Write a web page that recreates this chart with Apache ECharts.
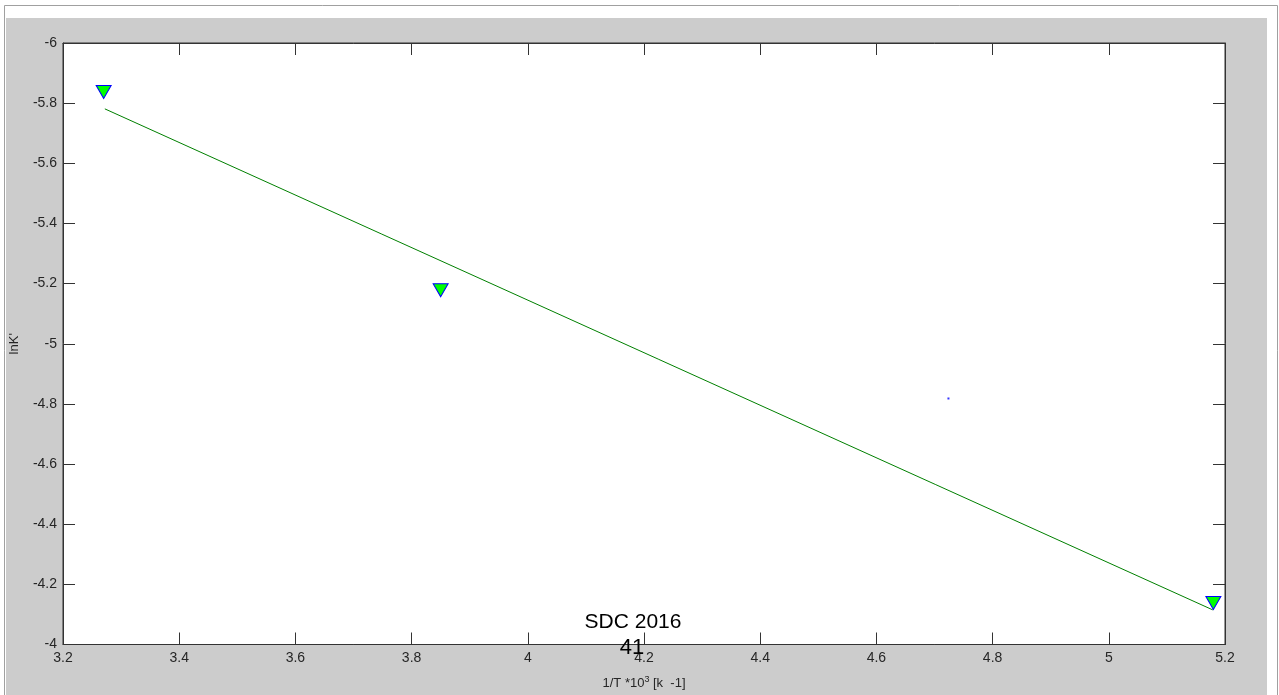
<!DOCTYPE html>
<html><head><meta charset="utf-8">
<script src="https://cdn.jsdelivr.net/npm/echarts@6/dist/echarts.min.js"></script>
<style>html,body{margin:0;padding:0;background:#fff;}#c{width:1279px;height:695px;}</style>
</head><body><div id="c"></div>
<script>
// Data
const xTickLabels = ['3.2','3.4','3.6','3.8','4','4.2','4.4','4.6','4.8','5','5.2'];
const yTickLabels = ['-6','-5.8','-5.6','-5.4','-5.2','-5','-4.8','-4.6','-4.4','-4.2','-4'];
const measuredX = [3.27, 3.85, 5.18];
const measuredY = [-5.837, -5.178, -4.138];
const fitX = [3.272, 5.179];
const fitY = [-5.781, -4.115];
const strayX = [4.724];
const strayY = [-4.818];
const xAxisTitle = '1/T *10';
const xAxisSup = '3';
const xAxisUnit = ' [k  -1]';
const yAxisTitle = "lnK'";
const noteLine1 = 'SDC 2016';
const noteLine2 = '41';

const zip = (a, b) => a.map((v, i) => [v, b[i]]);
const FONT = '"Liberation Sans", Arial, sans-serif';
const xMin = parseFloat(xTickLabels[0]), xMax = parseFloat(xTickLabels[xTickLabels.length - 1]);
const yMin = parseFloat(yTickLabels[0]), yMax = parseFloat(yTickLabels[yTickLabels.length - 1]);

const chart = echarts.init(document.getElementById('c'), null, {renderer: 'canvas'});
const axisLine = {show: true, lineStyle: {color: '#333', width: 1}};
const tick = {show: true, inside: true, length: 12, lineStyle: {color: '#333', width: 1}};
const lbl = {color: '#262626', fontFamily: FONT, fontSize: 14};

chart.setOption({
  backgroundColor: '#fff',
  animation: false,
  grid: {left: 63, top: 43, right: 54, bottom: 47, show: true, backgroundColor: '#fff', borderColor: '#333', borderWidth: 1},
  graphic: [
    {type: 'rect', z: -10, shape: {x: 4.5, y: 5.5, width: 1273, height: 700}, style: {fill: '#fff', stroke: '#a0a0a0', lineWidth: 1}},
    {type: 'rect', z: -9, shape: {x: 6, y: 18, width: 1261, height: 680}, style: {fill: '#cccccc'}},
    {type: 'text', z: 100, x: 633, y: 622, style: {text: noteLine1, fill: '#000', font: '21px ' + FONT, align: 'center', verticalAlign: 'middle'}},
    {type: 'text', z: 100, x: 632, y: 648, style: {text: noteLine2, fill: '#000', font: '22px ' + FONT, align: 'center', verticalAlign: 'middle'}}
  ],
  xAxis: [
    {type: 'value', min: xMin, max: xMax, interval: 0.2, position: 'bottom', z: 5,
     axisLine, axisTick: tick, splitLine: {show: false},
     axisLabel: Object.assign({margin: 7, formatter: (v) => { const i = Math.round((v - xMin) / 0.2); return xTickLabels[i] ?? ''; }}, lbl),
     name: '{t|' + xAxisTitle + '}{s|' + xAxisSup + '}{t|' + xAxisUnit + '}', nameLocation: 'middle', nameGap: 31,
     nameTextStyle: {rich: {t: {fontFamily: FONT, fontSize: 13, color: '#262626'}, s: {fontFamily: FONT, fontSize: 9, color: '#262626', padding: [0, 0, 7, 0]}}}},
    {type: 'value', min: xMin, max: xMax, interval: 0.2, position: 'top', z: 5,
     axisLine, axisTick: tick, splitLine: {show: false}, axisLabel: {show: false}}
  ],
  yAxis: [
    {type: 'value', min: yMin, max: yMax, interval: 0.2, inverse: true, position: 'left', z: 5,
     axisLine, axisTick: tick, splitLine: {show: false},
     axisLabel: Object.assign({margin: 6, formatter: (v) => { const i = Math.round((v - yMin) / 0.2); return yTickLabels[i] ?? ''; }}, lbl),
     name: yAxisTitle, nameLocation: 'middle', nameGap: 42, nameRotate: 90,
     nameTextStyle: {fontFamily: FONT, fontSize: 13, color: '#262626'}},
    {type: 'value', min: yMin, max: yMax, interval: 0.2, inverse: true, position: 'right', z: 5,
     axisLine, axisTick: tick, splitLine: {show: false}, axisLabel: {show: false}}
  ],
  series: [
    {type: 'line', data: zip(fitX, fitY), showSymbol: false, symbol: 'none', lineStyle: {color: '#008000', width: 1}, z: 3},
    {type: 'scatter', data: zip(measuredX, measuredY), symbol: 'triangle', symbolRotate: 180, symbolSize: [15, 13],
     itemStyle: {color: '#00ff00', borderColor: '#0000ff', borderWidth: 1, opacity: 1}, z: 4},
    {type: 'scatter', data: zip(strayX, strayY), symbol: 'rect', symbolSize: 2, itemStyle: {color: '#0000ff'}, z: 4}
  ]
});
</script>
</body></html>
